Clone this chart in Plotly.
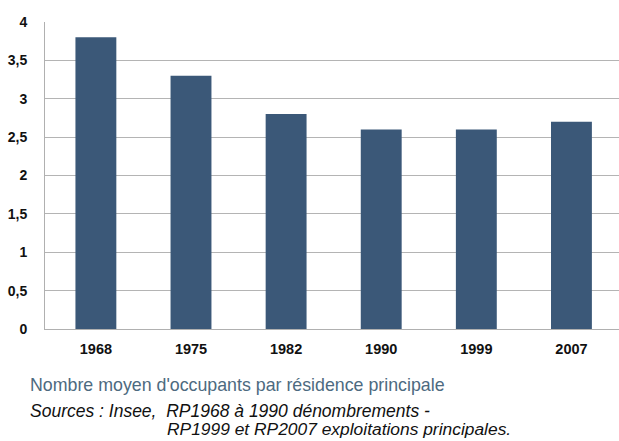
import plotly.graph_objects as go

years = ["1968", "1975", "1982", "1990", "1999", "2007"]
occupants = [3.8, 3.3, 2.8, 2.6, 2.6, 2.7]
y_ticks = [0, 0.5, 1, 1.5, 2, 2.5, 3, 3.5, 4]
y_tick_text = ["0", "0,5", "1", "1,5", "2", "2,5", "3", "3,5", "4"]

FONT = "Liberation Sans, Arial, sans-serif"

fig = go.Figure(
    go.Bar(x=years, y=occupants, width=0.43,
           marker=dict(color="#3b5878", line=dict(width=0)))
)

fig.update_layout(
    width=619,
    height=441,
    margin=dict(l=45, r=0, t=22, b=112),
    paper_bgcolor="white",
    plot_bgcolor="white",
    showlegend=False,
    font=dict(family=FONT, color="#111111"),
)

fig.update_xaxes(
    type="category",
    range=[-0.535, 5.5],
    showgrid=False,
    showline=True,
    linecolor="#b0b0b0",
    linewidth=1,
    ticks="",
    tickfont=dict(size=14.5, family=FONT, weight="bold"),
    ticklabelstandoff=7,
)

fig.update_yaxes(
    range=[0, 4],
    tickvals=y_ticks,
    ticktext=y_tick_text,
    showgrid=True,
    gridcolor="#b4b4b4",
    gridwidth=1,
    showline=True,
    linecolor="#b0b0b0",
    zeroline=False,
    ticks="",
    tickfont=dict(size=14, family=FONT, weight="bold"),
    ticklabelstandoff=14,
)

# caption and sources below the plot
fig.add_annotation(
    xref="paper", yref="paper", x=-0.03, y=-0.182,
    xanchor="left", yanchor="middle", showarrow=False,
    text="Nombre moyen d'occupants par résidence principale",
    font=dict(size=17.8, color="#4d6a80", family=FONT),
)
fig.add_annotation(
    xref="paper", yref="paper", x=-0.03, y=-0.266,
    xanchor="left", yanchor="middle", showarrow=False,
    text="<i>Sources : Insee,  RP1968 à 1990 dénombrements -</i>",
    font=dict(size=17.5, color="#111111", family=FONT),
)
fig.add_annotation(
    xref="paper", yref="paper", x=0.209, y=-0.326,
    xanchor="left", yanchor="middle", showarrow=False,
    text="<i>RP1999 et RP2007 exploitations principales.</i>",
    font=dict(size=17.4, color="#111111", family=FONT),
)

fig.write_html("out.html")
